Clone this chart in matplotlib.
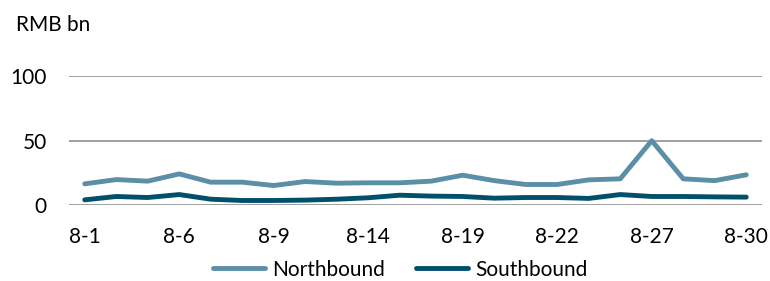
import matplotlib
matplotlib.use("Agg")
import matplotlib.pyplot as plt

# August trading days
dates = ["8-1", "8-2", "8-5", "8-6", "8-7", "8-8", "8-9", "8-12", "8-13", "8-14", "8-15",
         "8-16", "8-19", "8-20", "8-21", "8-22", "8-23", "8-26", "8-27", "8-28", "8-29", "8-30"]
northbound = [16.5, 19.8, 18.6, 24.2, 17.8, 17.8, 15.2, 18.3, 17.0, 17.3, 17.3,
              18.6, 23.2, 19.0, 16.0, 16.0, 19.6, 20.4, 50.0, 20.4, 19.0, 23.5]
southbound = [4.1, 6.7, 5.9, 8.2, 4.6, 3.6, 3.6, 3.9, 4.6, 5.7, 7.7,
              7.0, 6.7, 5.4, 5.9, 5.9, 5.2, 8.2, 6.7, 6.7, 6.4, 6.2]
shown_labels = ["8-1", "8-6", "8-9", "8-14", "8-19", "8-22", "8-27", "8-30"]
yticks = [0, 50, 100]

plt.rcParams['font.family'] = ['Lato', 'DejaVu Sans']
fs = 15

fig = plt.figure(figsize=(7.7, 2.81), dpi=100)
ax = fig.add_axes([0.0896, 0.270, 0.90, 0.459])

x = list(range(len(dates)))
ax.plot(x, northbound, color="#5B8FA8", lw=3.5, label="Northbound", solid_capstyle="round")
ax.plot(x, southbound, color="#004F6B", lw=3.5, label="Southbound", solid_capstyle="round")

ax.set_xlim(-0.5, len(dates) - 0.5)
ax.set_ylim(0, 100)
ax.set_yticks(yticks)
ax.set_yticklabels([str(v) for v in yticks], fontsize=fs)
ax.grid(axis="y", color="#A0A0A0", lw=1.4)
ax.set_axisbelow(True)

ticks = [dates.index(d) for d in shown_labels]
ax.set_xticks(ticks)
ax.set_xticklabels(shown_labels, fontsize=fs)

for s in ax.spines.values():
    s.set_visible(False)
ax.tick_params(axis="both", length=0)
ax.tick_params(axis="y", pad=16)
ax.tick_params(axis="x", pad=16)

fig.text(0.021, 0.911, "RMB bn", fontsize=fs, va="center", ha="left")

fig.legend(loc="center", bbox_to_anchor=(0.52, 0.04), ncol=2, frameon=False,
           fontsize=fs, handlelength=2.5, handletextpad=0.35, columnspacing=1.5)

fig.savefig("out.png", dpi=100)
